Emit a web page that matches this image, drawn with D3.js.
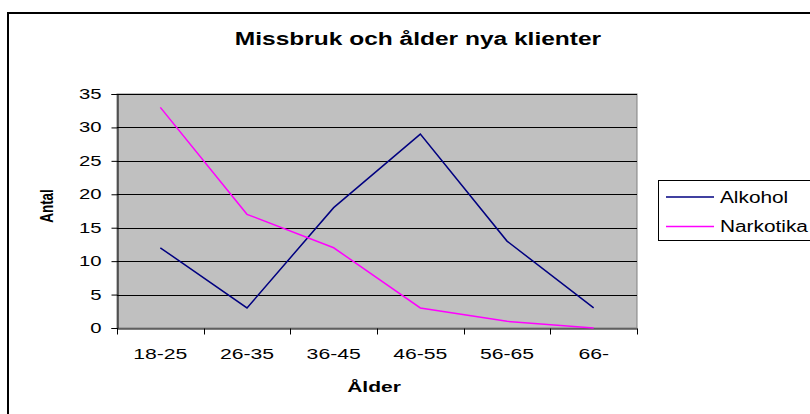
<!DOCTYPE html>
<html><head><meta charset="utf-8">
<script src="https://cdn.jsdelivr.net/npm/d3@7"></script>
<style>body{margin:0;background:#fff}svg{display:block}text{font-family:"Liberation Sans",Arial,sans-serif}</style>
</head><body>
<svg id="c" width="810" height="414"></svg>
<script>
const categories = ["18-25","26-35","36-45","46-55","56-65","66-"];
const alkohol = [12, 3, 18, 29, 13, 3];
const narkotika = [33, 17, 12, 3, 1, 0];
const yTicks = [0,5,10,15,20,25,30,35];
const seriesNames = ["Alkohol","Narkotika"];
const seriesColors = ["#000080","#ff00ff"];

const svg = d3.select("#c");
const W = 810, H = 414;
const plot = {l:117, t:94, r:637, b:328};

function stretch(sel, f){ sel.each(function(){ const w=this.getComputedTextLength(); d3.select(this).attr("textLength", w*f).attr("lengthAdjust","spacingAndGlyphs"); }); return sel; }

// outer frame
svg.append("rect").attr("x",8).attr("y",13).attr("width",810).attr("height",410)
  .attr("fill","#fff").attr("stroke","#000").attr("stroke-width",2);

const x = d3.scaleBand().domain(categories).range([plot.l, plot.r]);
const y = d3.scaleLinear().domain([0,35]).range([plot.b, plot.t]);

// plot background
svg.append("rect").attr("x",plot.l).attr("y",plot.t).attr("width",plot.r-plot.l).attr("height",plot.b-plot.t)
  .attr("fill","#c0c0c0").attr("stroke","#808080").attr("stroke-width",1);

// gridlines
svg.append("g").selectAll("line").data(yTicks.filter(d=>d>0)).join("line")
  .attr("x1",plot.l).attr("x2",plot.r).attr("y1",d=>Math.round(y(d))+0.5).attr("y2",d=>Math.round(y(d))+0.5)
  .attr("stroke","#000").attr("stroke-width",1);

// y axis
const ya = svg.append("g").attr("transform",`translate(${plot.l+0.5},0)`)
  .call(d3.axisLeft(y).tickValues(yTicks).tickSize(6).tickPadding(10).tickFormat(d3.format("d")));
ya.select(".domain").attr("stroke","#000");
ya.selectAll(".tick line").attr("stroke","#000");
ya.selectAll("text").attr("font-size",14).attr("fill","#000").attr("font-family",'"Liberation Sans",Arial,sans-serif');
stretch(ya.selectAll("text"),1.45);

// x axis
const xa = svg.append("g").attr("transform",`translate(0,${plot.b+0.5})`)
  .call(d3.axisBottom(x).tickSize(0).tickPadding(20));
xa.select(".domain").attr("stroke","#000");
xa.selectAll("text").attr("font-size",15).attr("fill","#000").attr("font-family",'"Liberation Sans",Arial,sans-serif');
stretch(xa.selectAll("text"),1.41);
// category boundary ticks
const bounds = categories.map(c=>x(c)).concat([x(categories[categories.length-1])+x.bandwidth()]);
xa.append("g").selectAll("line").data(bounds).join("line")
  .attr("x1",d=>Math.round(d)+0.5).attr("x2",d=>Math.round(d)+0.5).attr("y1",0).attr("y2",6).attr("stroke","#000");

// lines
const line = d3.line().x((d,i)=>x(categories[i])+x.bandwidth()/2).y(d=>y(d));
[alkohol, narkotika].forEach((s,i)=>{
  svg.append("path").datum(s).attr("d",line).attr("fill","none")
    .attr("stroke",seriesColors[i]).attr("stroke-width",1.5);
});

// title
const t = svg.append("text").attr("x",418).attr("y",45).attr("text-anchor","middle")
  .attr("font-size",17.5).attr("font-weight","bold").text("Missbruk och ålder nya klienter");
stretch(t,1.4);

// axis titles
const xt = svg.append("text").attr("x",374).attr("y",392).attr("text-anchor","middle")
  .attr("font-size",14).attr("font-weight","bold").text("Ålder");
stretch(xt,1.5);
const yt = svg.append("text").attr("transform","translate(52.5,206) scale(1.4,1) rotate(-90)")
  .attr("text-anchor","middle").attr("font-size",13.5).attr("font-weight","bold").text("Antal");

// legend
const lg = svg.append("g");
lg.append("rect").attr("x",658.5).attr("y",180.5).attr("width",170).attr("height",60)
  .attr("fill","#fff").attr("stroke","#000").attr("stroke-width",1);
const ly = [197, 226.5];
seriesNames.forEach((n,i)=>{
  lg.append("line").attr("x1",666).attr("x2",714).attr("y1",ly[i]).attr("y2",ly[i])
    .attr("stroke",seriesColors[i]).attr("stroke-width",1.5);
  const tx = lg.append("text").attr("x",720).attr("y",ly[i]+5.5).attr("font-size",16).text(n);
  stretch(tx,1.3);
});
</script>
</body></html>
